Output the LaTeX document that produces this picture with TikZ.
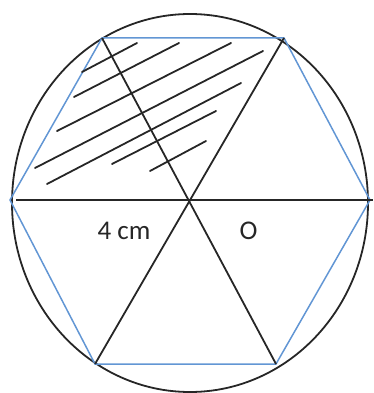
\documentclass[tikz,border=0pt]{standalone}
\usepackage{fontspec}
\setmainfont{Carlito}
\definecolor{hexblue}{RGB}{98,150,212}
\begin{document}
\begin{tikzpicture}[x=1pt,y=-1pt,
  blk/.style={line width=1.8pt,black!85},
  hexl/.style={line width=1.5pt,hexblue},
  hatch/.style={line width=1.8pt,black!85,line cap=round},
  lbl/.style={font=\fontsize{27}{30}\selectfont,text=black!85,inner sep=0pt}]
\useasboundingbox (0,0) rectangle (373,393);
\coordinate (O) at (189,200);
\coordinate (L) at (10,200);
\coordinate (R) at (370,200);
\coordinate (TL) at (102,38);
\coordinate (TR) at (284,38);
\coordinate (BL) at (95,364);
\coordinate (BR) at (276,364);
\coordinate (HL) at (16,200);
\coordinate (HR) at (373,200);
% circle
\draw[blk] (190,203) ellipse [x radius=178, y radius=189];
% hexagon
\draw[hexl] (L) -- (TL) -- (TR) -- (R) -- (BR) -- (BL) -- cycle;
% diagonals
\draw[blk] (HL) -- (HR);
\draw[blk] (TL) -- (BR);
\draw[blk] (TR) -- (BL);
% hatching
\draw[hatch] (82,72) -- (137,43);
\draw[hatch] (74,97) -- (179,43);
\draw[hatch] (57,131) -- (231,43);
\draw[hatch] (35,168) -- (263,51);
\draw[hatch] (47,184) -- (241,83);
\draw[hatch] (112,164) -- (216,111);
\draw[hatch] (150,171) -- (206,141);
% labels
\node[lbl] (len) at (124,231) {4 cm};
\node[lbl] (ctr) at (248.5,231) {O};
\end{tikzpicture}
\end{document}
